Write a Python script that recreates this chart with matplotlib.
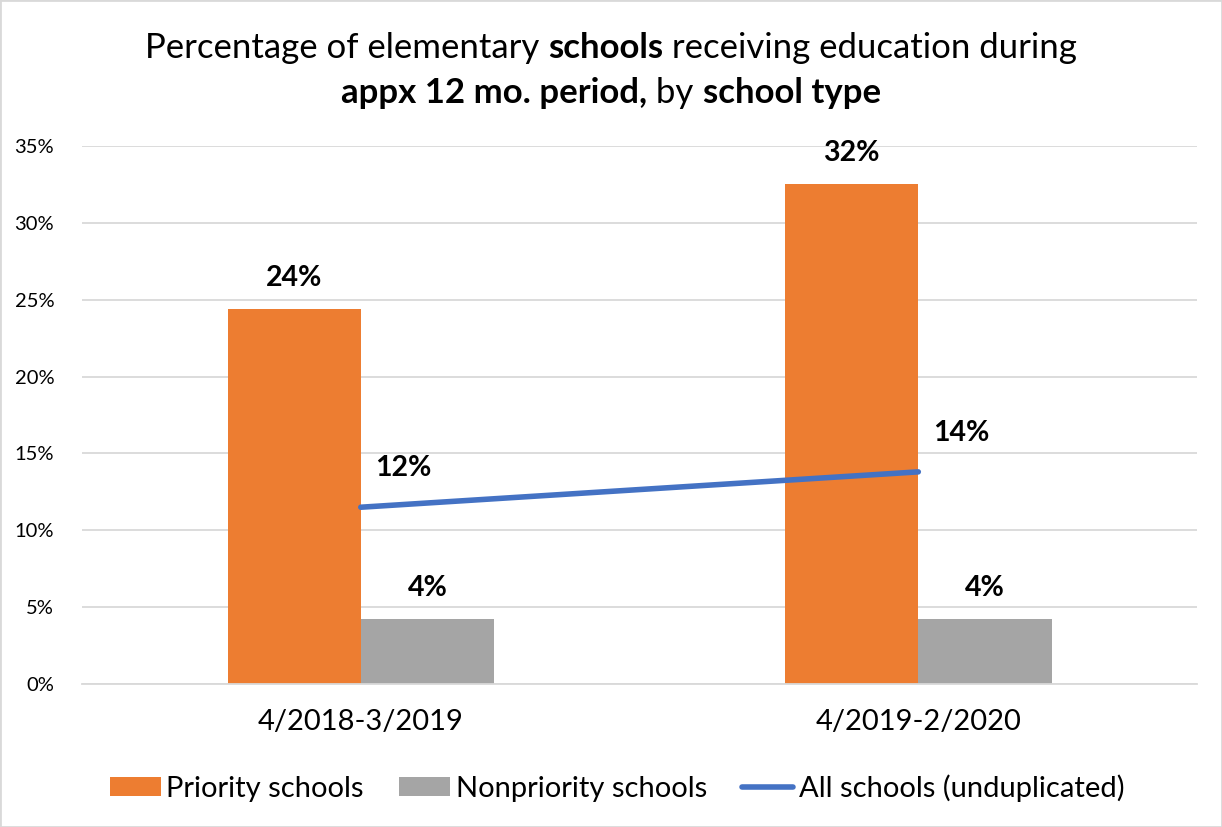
import matplotlib.pyplot as plt
import numpy as np
from matplotlib.patches import Rectangle

plt.rcParams['font.family'] = ['Lato', 'DejaVu Sans']

periods = ['4/2018-3/2019', '4/2019-2/2020']
priority = [24.4, 32.5]
nonpriority = [4.2, 4.2]
all_schools = [11.5, 13.8]
priority_lbl = ['24%', '32%']
nonpriority_lbl = ['4%', '4%']
all_lbl = ['12%', '14%']

c_orange = '#ED7D31'
c_gray = '#A5A5A5'
c_blue = '#4472C4'

fig = plt.figure(figsize=(12.22, 8.27), dpi=100)
ax = fig.add_axes([0.0671, 0.1729, 0.9796 - 0.0671, 0.8235 - 0.1729])

x = np.arange(len(periods))
w = 0.239
b1 = ax.bar(x - w / 2, priority, w, color=c_orange, label='Priority schools', zorder=2)
b2 = ax.bar(x + w / 2, nonpriority, w, color=c_gray, label='Nonpriority schools', zorder=2)
ln, = ax.plot(x, all_schools, color=c_blue, lw=4, solid_capstyle='round',
              label='All schools (unduplicated)', zorder=3)

for i in range(len(x)):
    ax.annotate(priority_lbl[i], (x[i] - w / 2, priority[i]), xytext=(0, 31),
                textcoords='offset pixels', ha='center', va='center',
                fontsize=20.5, fontweight='bold')
    ax.annotate(nonpriority_lbl[i], (x[i] + w / 2, nonpriority[i]), xytext=(0, 31),
                textcoords='offset pixels', ha='center', va='center',
                fontsize=20.5, fontweight='bold')
    ax.annotate(all_lbl[i], (x[i], all_schools[i]), xytext=(43, 39),
                textcoords='offset pixels', ha='center', va='center',
                fontsize=20.5, fontweight='bold')

ax.set_xlim(-0.5, 1.5)
ax.set_ylim(0, 35)
ax.set_yticks(np.arange(0, 36, 5))
ax.set_yticklabels([f'{v}%' for v in range(0, 36, 5)], fontsize=14.5)
ax.set_xticks(x)
ax.set_xticklabels(periods, fontsize=21)
ax.tick_params(axis='both', length=0, colors='#000000')
ax.tick_params(axis='y', pad=20)
ax.tick_params(axis='x', pad=18)
ax.grid(axis='y', color='#D9D9D9', lw=1.3, zorder=0)
for s in ['top', 'right', 'left']:
    ax.spines[s].set_visible(False)
ax.spines['bottom'].set_color('#D9D9D9')
ax.spines['bottom'].set_linewidth(1.3)

# title with mixed bold pieces
def rich_line(parts, y, size):
    r = fig.canvas.get_renderer()
    texts = []
    for s, b in parts:
        t = fig.text(0, y, s, fontsize=size, fontweight='bold' if b else 'normal',
                     va='center', ha='left')
        texts.append(t)
    widths = [t.get_window_extent(r).width for t in texts]
    total = sum(widths)
    xpos = (fig.bbox.width - total) / 2
    for t, wd in zip(texts, widths):
        t.set_x(xpos / fig.bbox.width)
        xpos += wd

rich_line([('Percentage of elementary ', False), ('schools', True),
           (' receiving education during', False)], 1 - 48 / 827, 25)
rich_line([('appx 12 mo. period,', True), (' by ', False), ('school type', True)],
          1 - 93 / 827, 25)

fig.legend(handles=[b1, b2, ln], loc='center', bbox_to_anchor=(0.505, 1 - 788 / 827),
           ncol=3, frameon=False, fontsize=21, handlelength=1.75, handleheight=0.62,
           handletextpad=0.2, columnspacing=1.2)

fig.patches.append(Rectangle((0, 0), 1, 1, transform=fig.transFigure, fill=False,
                             edgecolor='#D9D9D9', lw=2))

fig.savefig('out.png', dpi=100)
